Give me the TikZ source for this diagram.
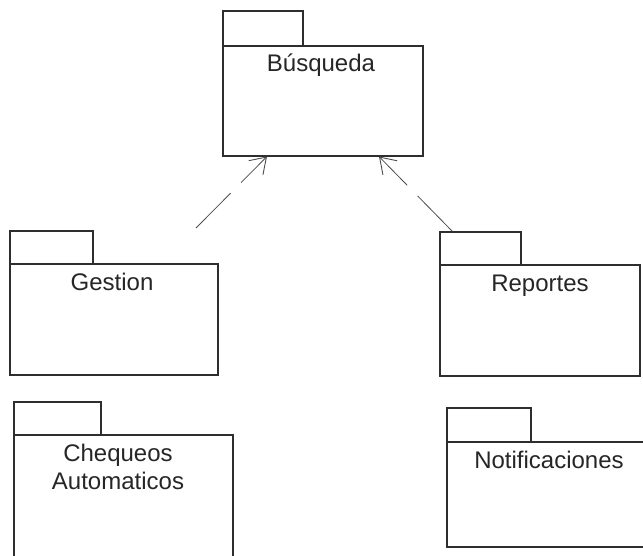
\documentclass[tikz,border=0pt]{standalone}
\usepackage{fontspec}
\setmainfont{Liberation Sans}
\usetikzlibrary{arrows.meta,calc}
\begin{document}
\begin{tikzpicture}[x=1pt,y=-1pt,
  pkgline/.style={draw=black!82, line width=1.5pt},
  pkgtab/.style={pkgline, rectangle, inner sep=0pt, anchor=north west},
  pkgbody/.style={pkgline, rectangle, inner sep=0pt, anchor=north west, fill=white},
  pkgname/.style={inner sep=0pt, text=black!85, font=\fontsize{24}{28}\selectfont, align=center},
  dependency/.style={draw=black!70, line width=0.8pt, dash pattern=on 49pt off 15pt,
    -{Straight Barb[length=15pt,width=20pt,line width=0.9pt]}}
]
\useasboundingbox (0,0) rectangle (643,555);
\clip (0,0) rectangle (643,555);

% Búsqueda
\node[pkgtab, minimum width=80pt, minimum height=35pt] (busqtab) at (222,10) {};
\node[pkgbody, minimum width=200pt, minimum height=110pt] (busq) at (222,45) {};
\node[pkgname, anchor=base] (busqname) at (321,71) {Búsqueda};

% Gestion
\node[pkgtab, minimum width=83pt, minimum height=33pt] (gesttab) at (9,230) {};
\node[pkgbody, minimum width=208pt, minimum height=111pt] (gest) at (9,263) {};
\node[pkgname, anchor=base] (gestname) at (112,290) {Gestion};

% Reportes
\node[pkgtab, minimum width=81pt, minimum height=33pt] (reptab) at (439,231) {};
\node[pkgbody, minimum width=200pt, minimum height=111pt] (rep) at (439,264) {};
\node[pkgname, anchor=base] (repname) at (540,291) {Reportes};

% Chequeos Automaticos
\node[pkgtab, minimum width=87pt, minimum height=33pt] (cheqtab) at (13,401) {};
\node[pkgbody, minimum width=219pt, minimum height=140pt] (cheq) at (13,434) {};
\node[pkgname, anchor=north] (cheqname) at (118,444) {Chequeos\\Automaticos};

% Notificaciones
\node[pkgtab, minimum width=84pt, minimum height=34pt] (notitab) at (446,407) {};
\node[pkgbody, minimum width=214pt, minimum height=105pt] (noti) at (446,441) {};
\node[pkgname, anchor=base] (notiname) at (549,468) {Notificaciones};

% Dependencies on Búsqueda
\coordinate (gestdep) at (196,228);
\draw[dependency] (gestdep) -- ($(busq.south west)+(45,0)$);
\draw[dependency] ($(reptab.north west)+(13,0)$) -- ($(busq.south west)+(157,0)$);
\end{tikzpicture}
\end{document}
